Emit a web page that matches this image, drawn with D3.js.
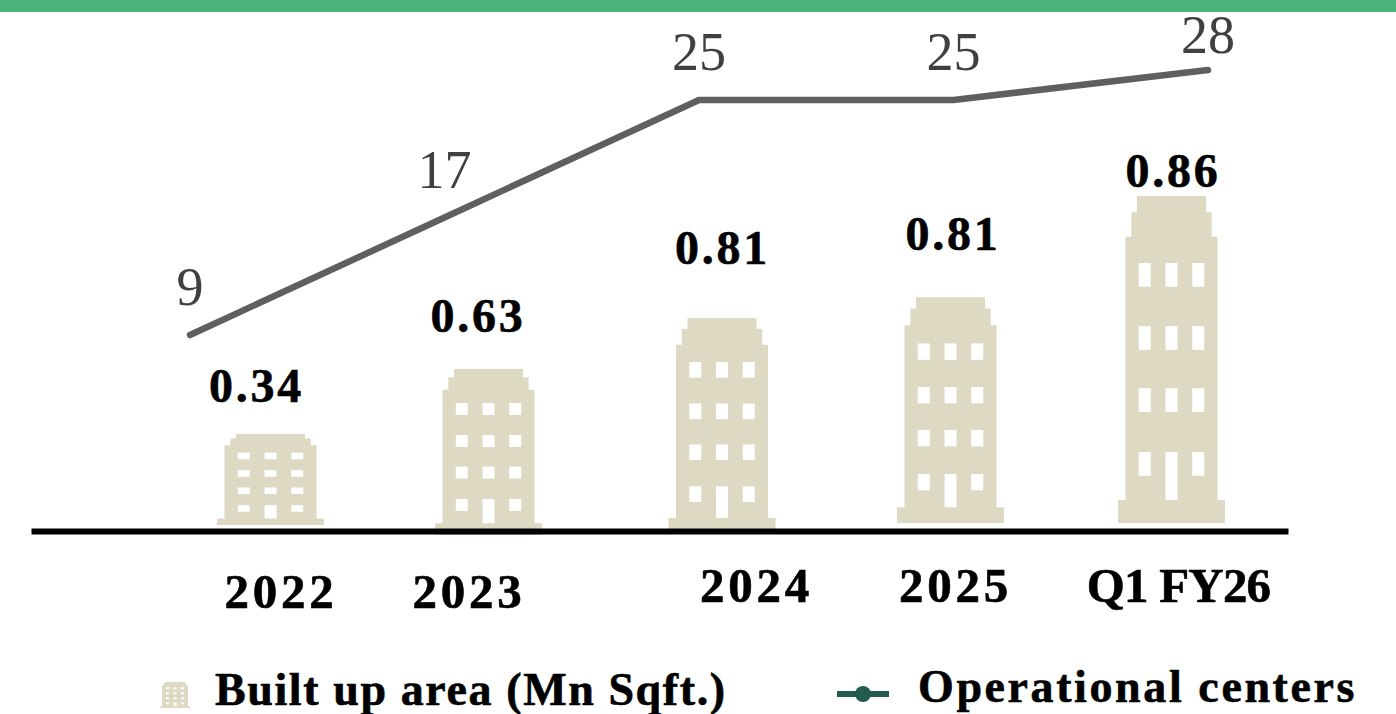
<!DOCTYPE html>
<html><head><meta charset="utf-8">
<style>html,body{margin:0;padding:0;background:#fff;overflow:hidden}text{font-family:"Liberation Serif",serif}</style>
<script src="https://cdnjs.cloudflare.com/ajax/libs/d3/7.8.5/d3.min.js"></script>
</head><body><svg id="c" width="1396" height="714"></svg>
<script>
const categories = ["2022","2023","2024","2025","Q1 FY26"];
const builtUpArea = [0.34,0.63,0.81,0.81,0.86];
const operationalCenters = [9,17,25,25,28];
// Icon extents as drawn in the picture, in area units (icons are not to scale with their labels)
const iconTopLevels = [0.2435,0.412,0.544,0.598,0.86];
const iconBaseLevels = [0.008,-0.018,-0.013,0.013,0.013];
const legendLabels = ["Built up area (Mn Sqft.)","Operational centers"];

const svg = d3.select("#c");
const W = 1396, BUILD="#DDD9C3";
const idx = d3.range(categories.length);
const xLine = d3.scalePoint().domain(idx).range([190,1208]);
const xIcon = d3.scaleLinear().domain(idx).range([270.5,488.5,722,950.5,1171.5]);
const xValueLabel = d3.scaleLinear().domain(idx).range([256.5,478,722.5,953,1173]);
const xTick = d3.scaleLinear().domain(idx).range([281,469,756.5,955.5,1178.5]);
const yTick = d3.scaleOrdinal().domain(idx).range([607.5,607.5,601.5,601.5,601.5]);
const yLine = d3.scaleLinear().domain([9,25,28]).range([335,100,70]);
const yIcon = d3.scaleLinear().domain([0,0.86]).range([528,196]);

svg.append("rect").attr("width",W).attr("height",12).attr("fill","#4BB47D");

function buildingPath(cx,top,bottom,hw){
  const h=bottom-top, X=u=>cx+u*hw, Y=v=>top+v*h;
  const pts=[[-.645,0],[.645,0],[.645,.05],[.75,.05],[.75,.125],[.86,.125],[.86,.93],[1,.93],[1,1],[-1,1],[-1,.93],[-.86,.93],[-.86,.125],[-.75,.125],[-.75,.05],[-.645,.05]];
  return d3.line().x(p=>X(p[0])).y(p=>Y(p[1]))(pts)+"Z";
}
function drawBuilding(g,cx,top,bottom,hw){
  const h=bottom-top;
  g.append("path").attr("d",buildingPath(cx,top,bottom,hw)).attr("fill",BUILD);
  const colStep=hw*0.5, ww=hw*0.224, rows=[.205,.398,.588,.783], wh=.0725;
  [-1,0,1].forEach(c=>rows.forEach((r,ri)=>{
    const door=(c===0&&ri===3);
    g.append("rect").attr("x",cx+c*colStep-ww/2).attr("width",ww)
     .attr("y",top+r*h).attr("height",door?(.93-r)*h:wh*h).attr("fill","#fff");
  }));
}
idx.forEach(i=>drawBuilding(svg.append("g"),xIcon(i),yIcon(iconTopLevels[i]),yIcon(iconBaseLevels[i]),53.5));

const xAxisScale=d3.scaleLinear().domain([0,1]).range([31,1288]);
svg.append("g").attr("transform","translate(0,531)")
  .call(d3.axisBottom(xAxisScale).tickValues([]).tickSizeOuter(0))
  .call(g=>g.select(".domain").attr("stroke","#000").attr("stroke-width",6));

svg.append("path").datum(operationalCenters)
  .attr("d",d3.line().x((d,i)=>xLine(i)).y(d=>yLine(d)))
  .attr("fill","none").attr("stroke","#5f5f5f").attr("stroke-width",6.5).attr("stroke-linecap","round").attr("stroke-linejoin","round");

const lineLabelDy=[-30,-29.5,-30,-30,-17];
svg.selectAll(".ll").data(operationalCenters).join("text").attr("class","ll")
  .attr("x",(d,i)=>xLine(i)).attr("y",(d,i)=>yLine(d)+lineLabelDy[i])
  .attr("text-anchor","middle").attr("font-size",54).attr("fill","#404040").text(d=>d);

const valueLabelY=[402,332,264,250,187];
svg.selectAll(".vl").data(builtUpArea).join("text").attr("class","vl")
  .attr("x",(d,i)=>xValueLabel(i)).attr("y",(d,i)=>valueLabelY[i])
  .attr("text-anchor","middle").attr("font-size",48).attr("font-weight","bold").attr("letter-spacing",2.8)
  .attr("fill","#000").attr("stroke","#000").attr("stroke-width",0.6).text(d=>d3.format(".2f")(d));

svg.selectAll(".tl").data(categories).join("text").attr("class","tl")
  .attr("x",(d,i)=>xTick(i)).attr("y",(d,i)=>yTick(i))
  .attr("text-anchor","middle").attr("font-size",49).attr("font-weight","bold").attr("letter-spacing",(d,i)=>i===4?-0.8:3.7)
  .attr("fill","#000").attr("stroke","#000").attr("stroke-width",0.6).text(d=>d);

const lg=svg.append("g");
drawBuilding(lg,175,682,708,15);
lg.append("line").attr("x1",837).attr("x2",889).attr("y1",694).attr("y2",694).attr("stroke","#235B4E").attr("stroke-width",6);
lg.append("circle").attr("cx",863).attr("cy",694).attr("r",8).attr("fill","#235B4E");
lg.selectAll(".lt").data(legendLabels).join("text").attr("class","lt")
  .attr("x",(d,i)=>i?918:215).attr("y",(d,i)=>i?702:704.5)
  .attr("font-size",46).attr("font-weight","bold").attr("letter-spacing",(d,i)=>i?2.6:1.6)
  .attr("fill","#000").attr("stroke","#000").attr("stroke-width",0.6).text(d=>d);
</script></body></html>
